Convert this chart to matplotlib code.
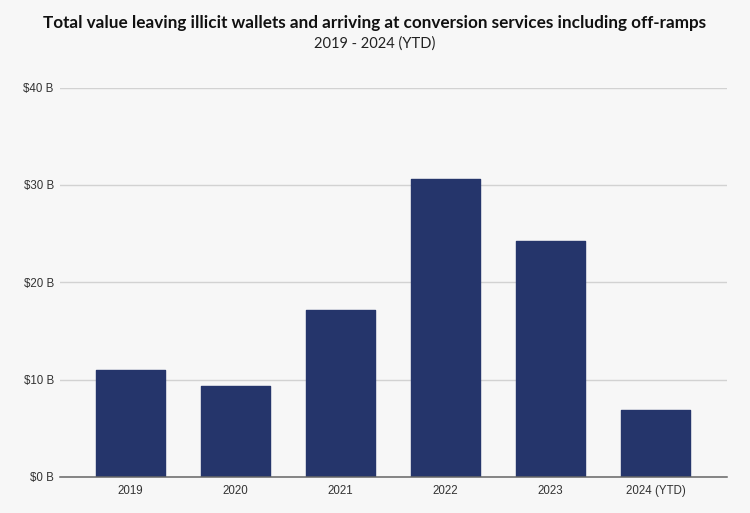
import matplotlib
matplotlib.use("Agg")
import matplotlib.pyplot as plt

years = ["2019", "2020", "2021", "2022", "2023", "2024 (YTD)"]
values = [11.0, 9.3, 17.2, 30.6, 24.2, 6.9]
y_ticks = [0, 10, 20, 30, 40]
y_labels = ["$0 B", "$10 B", "$20 B", "$30 B", "$40 B"]

W, H = 750, 513
BG = "#f7f7f7"

plt.rcParams["font.family"] = ["Liberation Sans", "DejaVu Sans"]

fig = plt.figure(figsize=(W / 100, H / 100), dpi=100, facecolor=BG)
ax = fig.add_axes([60 / W, 1 - 477 / H, 667 / W, (477 - 87.5) / H], facecolor=BG)

# round join on the edge gives the slightly rounded bar corners
ax.bar(range(len(years)), values, width=0.655, color="#25356b", edgecolor="#25356b",
       linewidth=1.0, joinstyle="round", zorder=3)
ax.set_xlim(-0.67, 5.68)
ax.set_ylim(0, 40)

ax.set_yticks(y_ticks)
ax.set_yticklabels(y_labels, fontsize=8.3, color="#333333")
ax.set_xticks(range(len(years)))
ax.set_xticklabels(years, fontsize=8.3, color="#333333")
ax.tick_params(length=0)
ax.tick_params(axis="y", pad=4.5)
ax.tick_params(axis="x", pad=6)

ax.grid(axis="y", color="#d2d2d2", linewidth=1.0, zorder=0)
for side in ["top", "left", "right"]:
    ax.spines[side].set_visible(False)
ax.spines["bottom"].set_color("#666666")
ax.spines["bottom"].set_linewidth(1.1)
ax.spines["bottom"].set_zorder(4)

fig.text(374.5 / W, 1 - 23 / H, "Total value leaving illicit wallets and arriving at conversion services including off-ramps",
         ha="center", va="center", fontsize=12.3, fontweight="bold", family="Lato", color="#111111")
fig.text(375 / W, 1 - 44 / H, "2019 - 2024 (YTD)", ha="center", va="center",
         fontsize=10.5, family="Lato", color="#222222")

fig.savefig("out.png", dpi=100, facecolor=BG)
